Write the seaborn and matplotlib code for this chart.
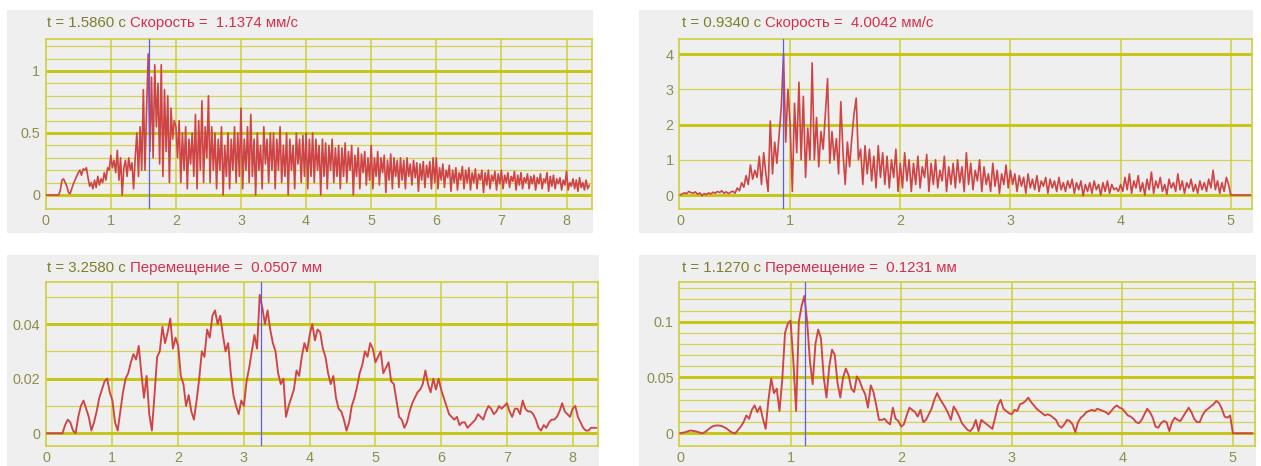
import numpy as np
import matplotlib
matplotlib.use("Agg")
import matplotlib.pyplot as plt
from matplotlib.patches import Rectangle
import seaborn as sns

# ---------------------------------------------------------------------------
# Recorded signals (uniform sampling, values per row cover a fixed time span)
# ---------------------------------------------------------------------------
# Velocity, record A: dt = 0.025 s, 20 samples per row (0.5 s)
speed_a_dt = 0.025
speed_a = [
    0, 0, 0, 0, 0, 0, 0, 0, 0, 0.04, 0.12, 0.13, 0.1, 0.07, 0.02, 0.01, 0.05, 0.09, 0.12, 0.15,
    0.18, 0.2, 0.16, 0.21, 0.2, 0.22, 0.14, 0.07, 0.1, 0.05, 0.12, 0.06, 0.15, 0.08, 0.13, 0.1, 0.18, 0.12, 0.22, 0.2,
    0.32, 0.22, 0.28, 0.18, 0.36, 0.12, 0.3, 0.0, 0.22, 0.28, 0.15, 0.3, 0.2, 0.26, 0.05, 0.3, 0.5, 0.15, 0.55, 0.2,
    0.85, 0.2, 0.7, 1.1374, 0.35, 0.95, 0.3, 1.05, 0.55, 0.9, 0.25, 1.05, 0.15, 0.85, 0.35, 0.8, 0.1, 0.7, 0.45, 0.6,
    0.55, 0.3, 0.6, 0.1, 0.5, 0.2, 0.55, 0.05, 0.45, 0.25, 0.5, 0.15, 0.65, 0.05, 0.6, 0.2, 0.76, 0.1, 0.55, 0.3,
    0.8, 0.1, 0.55, 0.2, 0.5, 0.05, 0.45, 0.2, 0.55, 0.0, 0.4, 0.15, 0.5, 0.05, 0.45, 0.2, 0.55, 0.1, 0.5, 0.15,
    0.7, 0.05, 0.45, 0.2, 0.55, 0.1, 0.65, 0.15, 0.45, 0.0, 0.5, 0.2, 0.4, 0.05, 0.55, 0.25, 0.45, 0.1, 0.5, 0.2,
    0.5, 0.05, 0.45, 0.2, 0.55, 0.1, 0.4, 0.15, 0.5, 0.0, 0.45, 0.2, 0.4, 0.05, 0.5, 0.25, 0.45, 0.1, 0.48, 0.15,
    0.5, 0.05, 0.45, 0.15, 0.5, 0.1, 0.45, 0.2, 0.4, 0.0, 0.45, 0.15, 0.42, 0.05, 0.4, 0.2, 0.45, 0.1, 0.38, 0.15,
    0.4, 0.05, 0.38, 0.15, 0.42, 0.1, 0.35, 0.2, 0.4, 0.0, 0.32, 0.15, 0.38, 0.05, 0.33, 0.18, 0.35, 0.08, 0.3, 0.12,
    0.4, 0.05, 0.3, 0.15, 0.35, 0.08, 0.3, 0.18, 0.32, 0.02, 0.28, 0.12, 0.33, 0.05, 0.3, 0.15, 0.28, 0.06, 0.3, 0.12,
    0.28, 0.05, 0.3, 0.15, 0.25, 0.08, 0.28, 0.14, 0.26, 0.03, 0.25, 0.12, 0.27, 0.06, 0.24, 0.14, 0.27, 0.05, 0.3, 0.1,
    0.3, 0.05, 0.22, 0.12, 0.25, 0.06, 0.2, 0.14, 0.24, 0.03, 0.2, 0.1, 0.22, 0.04, 0.18, 0.12, 0.23, 0.05, 0.2, 0.1,
    0.22, 0.04, 0.18, 0.1, 0.21, 0.05, 0.17, 0.12, 0.2, 0.02, 0.18, 0.08, 0.2, 0.05, 0.16, 0.11, 0.19, 0.04, 0.17, 0.09,
    0.2, 0.05, 0.16, 0.1, 0.18, 0.06, 0.15, 0.11, 0.19, 0.04, 0.16, 0.08, 0.18, 0.05, 0.14, 0.1, 0.17, 0.05, 0.15, 0.09,
    0.16, 0.04, 0.14, 0.09, 0.17, 0.05, 0.13, 0.1, 0.18, 0.03, 0.15, 0.07, 0.16, 0.05, 0.13, 0.09, 0.14, 0.04, 0.12, 0.08,
    0.19, 0.04, 0.1, 0.07, 0.13, 0.05, 0.12, 0.03, 0.14, 0.06, 0.1, 0.04, 0.12, 0.05, 0.08,
]
speed_a_cursor = 1.586

# Velocity, record B: dt = 0.02 s, 25 samples per row (0.5 s)
speed_b_dt = 0.02
speed_b = [
    0.0, 0.03, 0.06, 0.04, 0.1, 0.07, 0.05, 0.09, 0.02, 0.06, -0.02, 0.04, 0.01, 0.06, 0.03, 0.08, 0.05, 0.1, 0.07, 0.12, 0.05, 0.09, 0.04, 0.08, 0.11,
    0.05, 0.2, 0.12, 0.35, 0.22, 0.55, 0.3, 0.85, 0.45, 0.7, 0.5, 1.1, 0.3, 1.2, 0.6, 0.1, 2.1, 0.6, 1.5, 0.9, 1.7, 2.5, 4.0042, 1.5, 3.0,
    2.0, 0.1, 2.6, 1.2, 3.2, 1.0, 2.8, 0.5, 1.9, 1.0, 3.75, 1.0, 2.2, 0.8, 1.8, 1.3, 2.3, 3.3, 0.9, 1.8, 1.0, 1.6, 0.6, 2.65, 1.2,
    0.3, 1.5, 0.8, 1.6, 2.3, 2.75, 1.0, 1.3, 0.3, 1.4, 0.6, 1.3, 0.4, 1.1, 0.2, 1.4, 0.5, 1.2, 0.3, 1.1, 0.2, 1.0, 0.5, 1.3, 0.1,
    0.9, 0.2, 1.2, 0.4, 1.0, 0.1, 0.9, 0.3, 1.1, 0.2, 0.8, 0.5, 1.15, 0.1, 0.9, 0.3, 1.0, 0.2, 0.7, 0.4, 1.1, 0.1, 0.8, 0.3, 0.9,
    0.2, 1.0, 0.35, 0.8, 0.1, 1.2, 0.3, 0.9, 0.15, 0.7, 0.4, 1.0, 0.1, 0.8, 0.3, 0.6, 0.1, 0.9, 0.25, 0.7, 0.05, 0.6, 0.3, 0.85, 0.2,
    0.7, 0.3, 0.6, 0.1, 0.55, 0.25, 0.5, 0.05, 0.6, 0.2, 0.45, 0.15, 0.55, 0.1, 0.4, 0.25, 0.5, 0.05, 0.45, 0.2, 0.4, 0.1, 0.5, 0.15, 0.35,
    0.1, 0.4, 0.2, 0.45, 0.05, 0.35, 0.15, 0.4, -0.02, 0.3, 0.1, 0.35, 0.05, 0.4, 0.15, 0.3, 0.0, 0.35, 0.1, 0.4, 0.05, 0.3, 0.15, 0.2, 0.1,
    0.3, 0.1, 0.5, 0.15, 0.6, 0.05, 0.4, 0.2, 0.55, 0.1, 0.35, 0.0, 0.45, 0.15, 0.65, 0.05, 0.4, 0.2, 0.5, 0.1, 0.3, 0.02, 0.45, 0.2, 0.35,
    0.1, 0.6, 0.15, 0.4, 0.05, 0.35, 0.2, 0.45, 0.1, 0.3, 0.05, 0.4, 0.15, 0.35, 0.1, 0.45, 0.2, 0.7, 0.15, 0.4, 0.05, 0.35, 0.1, 0.5, 0.3,
    0.0, 0.0, 0.0, 0.0, 0.0, 0.0, 0.0, 0.0, 0.0, 0.0,
]
speed_b_cursor = 0.934

# Displacement, record A: dt = 0.04 s, 25 samples per row (1 s)
disp_a_dt = 0.04
disp_a = [
    0, 0, 0, 0, 0, 0, 0, 0.003, 0.005, 0.004, 0.001, 0.0, 0.006, 0.010, 0.012, 0.009, 0.006, 0.001, 0.004, 0.008, 0.013, 0.016, 0.019, 0.020, 0.015,
    0.012, 0.004, 0.001, 0.008, 0.015, 0.020, 0.022, 0.026, 0.029, 0.027, 0.032, 0.022, 0.013, 0.021, 0.007, 0.001, 0.014, 0.028, 0.030, 0.039, 0.033, 0.037, 0.042, 0.031, 0.035,
    0.032, 0.021, 0.018, 0.010, 0.014, 0.008, 0.005, 0.012, 0.020, 0.030, 0.028, 0.038, 0.035, 0.043, 0.045, 0.040, 0.043, 0.036, 0.030, 0.033, 0.022, 0.014, 0.010, 0.007, 0.012,
    0.010, 0.019, 0.024, 0.030, 0.036, 0.031, 0.0507, 0.046, 0.040, 0.045, 0.038, 0.033, 0.030, 0.022, 0.018, 0.020, 0.006, 0.010, 0.013, 0.016, 0.023, 0.021, 0.028, 0.033, 0.030,
    0.036, 0.040, 0.034, 0.038, 0.037, 0.031, 0.028, 0.022, 0.018, 0.021, 0.013, 0.009, 0.008, 0.005, 0.001, 0.004, 0.010, 0.013, 0.017, 0.022, 0.025, 0.030, 0.028, 0.033, 0.031,
    0.026, 0.028, 0.030, 0.022, 0.024, 0.026, 0.019, 0.018, 0.012, 0.006, 0.005, 0.002, 0.004, 0.008, 0.011, 0.013, 0.015, 0.016, 0.018, 0.023, 0.018, 0.015, 0.020, 0.016, 0.020,
    0.016, 0.013, 0.010, 0.007, 0.006, 0.005, 0.006, 0.003, 0.004, 0.004, 0.002, 0.003, 0.004, 0.005, 0.007, 0.006, 0.005, 0.008, 0.010, 0.009, 0.007, 0.008, 0.010, 0.009, 0.010,
    0.011, 0.008, 0.006, 0.009, 0.009, 0.007, 0.012, 0.009, 0.008, 0.008, 0.007, 0.005, 0.002, 0.001, 0.003, 0.002, 0.004, 0.005, 0.005, 0.006, 0.008, 0.011, 0.008, 0.007, 0.006,
    0.009, 0.010, 0.006, 0.004, 0.002, 0.001, 0.001, 0.002, 0.002, 0.002,
]
disp_a_cursor = 3.258

# Displacement, record B: dt = 0.025 s, 20 samples per row (0.5 s)
disp_b_dt = 0.025
disp_b = [
    0.0, 0.0005, 0.001, 0.002, 0.0025, 0.002, 0.0015, 0.0008, 0.0, 0.001, 0.003, 0.005, 0.0065, 0.007, 0.007, 0.0065, 0.0055, 0.004, 0.002, 0.0005,
    0.0, 0.003, 0.006, 0.010, 0.016, 0.013, 0.021, 0.025, 0.019, 0.024, 0.013, 0.004, 0.030, 0.049, 0.036, 0.040, 0.020, 0.048, 0.090, 0.098,
    0.101, 0.065, 0.020, 0.100, 0.114, 0.1231, 0.100, 0.065, 0.044, 0.080, 0.093, 0.085, 0.050, 0.032, 0.060, 0.075, 0.070, 0.045, 0.032, 0.050,
    0.058, 0.052, 0.040, 0.037, 0.051, 0.047, 0.040, 0.035, 0.023, 0.043, 0.037, 0.025, 0.012, 0.012, 0.013, 0.010, 0.008, 0.023, 0.013, 0.011,
    0.006, 0.008, 0.016, 0.023, 0.021, 0.019, 0.015, 0.021, 0.010, 0.012, 0.017, 0.022, 0.030, 0.036, 0.031, 0.027, 0.023, 0.018, 0.012, 0.024,
    0.020, 0.015, 0.009, 0.006, 0.003, 0.002, 0.005, 0.012, 0.002, 0.012, 0.010, 0.008, 0.006, 0.004, 0.014, 0.025, 0.030, 0.022, 0.020, 0.018,
    0.017, 0.021, 0.020, 0.026, 0.027, 0.029, 0.032, 0.028, 0.025, 0.022, 0.020, 0.018, 0.016, 0.017, 0.016, 0.014, 0.012, 0.007, 0.005, 0.008,
    0.012, 0.011, 0.008, 0.001, 0.010, 0.014, 0.016, 0.019, 0.020, 0.021, 0.020, 0.022, 0.021, 0.020, 0.019, 0.017, 0.020, 0.023, 0.025, 0.023,
    0.022, 0.019, 0.016, 0.015, 0.013, 0.010, 0.009, 0.012, 0.017, 0.022, 0.019, 0.014, 0.006, 0.005, 0.009, 0.011, 0.010, 0.002, 0.010, 0.014,
    0.012, 0.011, 0.015, 0.019, 0.023, 0.019, 0.013, 0.010, 0.010, 0.016, 0.020, 0.022, 0.024, 0.026, 0.029, 0.027, 0.022, 0.015, 0.014, 0.016,
    0.0, 0.0, 0.0, 0.0, 0.0, 0.0, 0.0, 0.0,
]
disp_b_cursor = 1.127

speed_name, speed_unit = "Скорость", "мм/с"
disp_name, disp_unit = "Перемещение", "мм"
time_unit = "с"

xticks_long = [0, 1, 2, 3, 4, 5, 6, 7, 8]
xticks_short = [0, 1, 2, 3, 4, 5]
speed_a_yticks, speed_a_ylabels = [0, 0.5, 1.0], ["0", "0.5", "1"]
speed_b_yticks, speed_b_ylabels = [0, 1, 2, 3, 4], ["0", "1", "2", "3", "4"]
disp_a_yticks, disp_a_ylabels = [0, 0.02, 0.04], ["0", "0.02", "0.04"]
disp_b_yticks, disp_b_ylabels = [0, 0.05, 0.1], ["0", "0.05", "0.1"]

# ---------------------------------------------------------------------------
# Styling
# ---------------------------------------------------------------------------
sns.set_theme(style="white")
plt.rcParams["font.family"] = ["Liberation Sans", "DejaVu Sans"]

PANEL_BG = "#EFEFEF"
GRID_THICK = "#C6C612"
GRID_THIN = "#CFCF3C"
TRACE = "#CF4545"
CURSOR = "#5C5CF0"
TICK_COLOR = "#8E8E4C"
T_COLOR = "#7E7E2C"
VALUE_COLOR = "#D2304A"
FS = 10.8
TICK_FS = 10.4

W, H = 1261, 466
fig = plt.figure(figsize=(W / 100, H / 100), dpi=100, facecolor="white")


def fx(px):
    return px / W


def fy(py):
    return 1 - py / H


def background(x0, y0, x1, y1):
    fig.add_artist(Rectangle((fx(x0), fy(y1)), fx(x1) - fx(x0), fy(y0) - fy(y1),
                             transform=fig.transFigure, facecolor=PANEL_BG,
                             edgecolor="none", zorder=-10))


def axes_at(x0, y0, x1, y1):
    return fig.add_axes([fx(x0), fy(y1), fx(x1) - fx(x0), fy(y0) - fy(y1)])


def draw_panel(ax, values, dt, cursor, xlim, ylim, thin, thick, xticks, yticks, ylabels, lw):
    t = np.arange(len(values)) * dt
    v = np.asarray(values, dtype=float)
    ax.set_facecolor(PANEL_BG)
    for yv in thin:
        ax.axhline(yv, color=GRID_THIN, lw=0.9, alpha=0.85, zorder=1)
    for yv in thick:
        ax.axhline(yv, color=GRID_THICK, lw=2.1, zorder=1.5)
    for xv in xticks[1:]:
        ax.axvline(xv, color=GRID_THIN, lw=1.1, zorder=1)
    sns.lineplot(x=t, y=v, ax=ax, color=TRACE, lw=lw, zorder=3,
                 estimator=None, sort=False)
    ax.axvline(cursor, color=CURSOR, lw=0.9, zorder=4)
    ax.set_xlim(*xlim)
    ax.set_ylim(*ylim)
    ax.set_xticks(xticks)
    ax.set_xticklabels([str(x) for x in xticks])
    ax.set_yticks(yticks)
    ax.set_yticklabels(ylabels)
    ax.tick_params(axis="x", length=3, width=1.1, color=GRID_THIN, pad=0.5,
                   labelcolor=TICK_COLOR, labelsize=TICK_FS)
    ax.tick_params(axis="y", length=0, pad=4, labelcolor=TICK_COLOR, labelsize=TICK_FS)
    for s in ax.spines.values():
        s.set_color(GRID_THIN)
        s.set_linewidth(1.2)
    ax.set_xlabel("")
    ax.set_ylabel("")
    idx = int(np.argmin(np.abs(t - cursor)))
    return v[idx]


def header(x_px, y_px, cursor, name, value, unit):
    renderer = fig.canvas.get_renderer()
    t1 = fig.text(fx(x_px), fy(y_px), f"t = {cursor:.4f} {time_unit} ",
                  color=T_COLOR, fontsize=FS, va="center", ha="left")
    bb = t1.get_window_extent(renderer=renderer)
    fig.text(bb.x1 / fig.bbox.width, fy(y_px), f"{name} =  {value:.4f} {unit}",
             color=VALUE_COLOR, fontsize=FS, va="center", ha="left")


# panel backgrounds
background(7, 10, 593, 233)
background(639, 10, 1253, 233)
background(7, 255, 599, 466)
background(639, 255, 1256, 466)

ax1 = axes_at(45.7, 39, 592.3, 209)
ax2 = axes_at(679.3, 39, 1252, 209)
ax3 = axes_at(45.7, 282.3, 598.3, 446.3)
ax4 = axes_at(679.3, 282.3, 1255, 446.3)

val1 = draw_panel(ax1, speed_a, speed_a_dt, speed_a_cursor, (0, 8.396), (-0.113, 1.258),
                  [0.1, 0.2, 0.3, 0.4, 0.6, 0.7, 0.8, 0.9, 1.1, 1.2], speed_a_yticks,
                  xticks_long, speed_a_yticks, speed_a_ylabels, 1.2)
val2 = draw_panel(ax2, speed_b, speed_b_dt, speed_b_cursor, (-0.006, 5.193), (-0.397, 4.426),
                  [1, 3], [0, 2, 4], xticks_short, speed_b_yticks, speed_b_ylabels, 1.2)
val3 = draw_panel(ax3, disp_a, disp_a_dt, disp_a_cursor, (-0.015, 8.39), (-0.00476, 0.05527),
                  [0.01, 0.03, 0.05], disp_a_yticks, xticks_long, disp_a_yticks,
                  disp_a_ylabels, 1.35)
val4 = draw_panel(ax4, disp_b, disp_b_dt, disp_b_cursor, (-0.006, 5.2), (-0.01165, 0.1353),
                  [0.01, 0.02, 0.03, 0.04, 0.06, 0.07, 0.08, 0.09, 0.11, 0.12, 0.13],
                  disp_b_yticks, xticks_short, disp_b_yticks, disp_b_ylabels, 1.35)

header(46.7, 23.3, speed_a_cursor, speed_name, val1, speed_unit)
header(681.7, 23.3, speed_b_cursor, speed_name, val2, speed_unit)
header(46.7, 268.3, disp_a_cursor, disp_name, val3, disp_unit)
header(681.7, 268.3, disp_b_cursor, disp_name, val4, disp_unit)

fig.savefig("out.png", dpi=100, facecolor="white")
